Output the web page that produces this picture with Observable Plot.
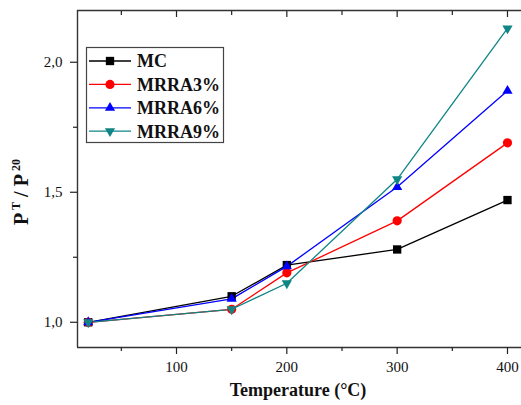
<!DOCTYPE html>
<html><head><meta charset="utf-8">
<script src="https://cdn.jsdelivr.net/npm/d3@7"></script>
<script src="https://cdn.jsdelivr.net/npm/@observablehq/plot@0.6"></script>
<style>body{margin:0;background:#fff} #chart{position:relative;width:521px;height:405px}</style>
</head><body><div id="chart"></div>
<script>
// ---- data ----
const temps = [20, 150, 200, 300, 400];
const seriesNames = ["MC", "MRRA3%", "MRRA6%", "MRRA9%"];
const mcValues = [1.00, 1.10, 1.22, 1.28, 1.47];
const mrra3Values = [1.00, 1.05, 1.19, 1.39, 1.69];
const mrra6Values = [1.00, 1.09, 1.215, 1.52, 1.89];
const mrra9Values = [1.00, 1.05, 1.15, 1.55, 2.13];
const seriesColors = ["#000000", "#ff0000", "#0000ff", "#0f8585"];
const xMajorTicks = [100, 200, 300, 400];
const xMinorTicks = [50, 150, 250, 350];
const yMajorTicks = [1.0, 1.5, 2.0];
const yMinorTicks = [1.25, 1.75];
const xDomain = [10.27, 412.7];
const yDomain = [0.903, 2.199];

// ---- symbols ----
const sqrt3 = Math.sqrt(3);
const triangleDown = {
  draw(context, size) {
    const y = -Math.sqrt(size / (sqrt3 * 3));
    context.moveTo(0, -y * 2);
    context.lineTo(-sqrt3 * y, y);
    context.lineTo(sqrt3 * y, y);
    context.closePath();
  }
};
const seriesSymbols = [d3.symbolSquare, d3.symbolCircle, d3.symbolTriangle, triangleDown];
const seriesR = [4.7, 4.6, 3.8, 3.8];
const allValues = [mcValues, mrra3Values, mrra6Values, mrra9Values];

const seriesData = allValues.map((vals, s) => temps.map((t, i) => ({t, v: vals[i], s: seriesNames[s]})));

const fmt = d => d.toFixed(1).replace(".", ",");
const axisStyle = {stroke: "#222", strokeWidth: 1.2};

const marks = [
  Plot.ruleX([xDomain[0]], {stroke: "#333", strokeWidth: 1.4}),
  Plot.ruleY([yDomain[0]], {stroke: "#333", strokeWidth: 1.4}),
  Plot.ruleY([yDomain[1]], {stroke: "#333", strokeWidth: 1.4}),
  Plot.axisX(xMajorTicks, {anchor: "bottom", tickSize: 7, tickPadding: 7, tickFormat: d => String(d), label: null, ...axisStyle, fill: "#111"}),
  Plot.axisX(xMinorTicks, {anchor: "bottom", tickSize: 4, tickFormat: () => "", label: null, ...axisStyle}),
  Plot.axisX(xMajorTicks, {anchor: "top", tickSize: -6, tickFormat: () => "", label: null, ...axisStyle}),
  Plot.axisX(xMinorTicks, {anchor: "top", tickSize: -4, tickFormat: () => "", label: null, ...axisStyle}),
  Plot.axisY(yMajorTicks, {anchor: "left", tickSize: 7, tickPadding: 8, tickFormat: fmt, label: null, ...axisStyle, fill: "#111"}),
  Plot.axisY(yMinorTicks, {anchor: "left", tickSize: 4, tickFormat: () => "", label: null, ...axisStyle}),
];
seriesData.forEach((data, s) => {
  marks.push(Plot.line(data, {x: "t", y: "v", stroke: seriesColors[s], strokeWidth: 1.3}));
});
seriesData.forEach((data, s) => {
  marks.push(Plot.dot(data, {x: "t", y: "v", symbol: seriesSymbols[s], r: seriesR[s], fill: seriesColors[s], stroke: "none"}));
});

const chart = Plot.plot({
  width: 521,
  height: 405,
  marginLeft: 77,
  marginRight: 0,
  marginTop: 10,
  marginBottom: 58,
  style: {fontFamily: "Liberation Serif", fontSize: "15px", background: "#fff", color: "#111"},
  x: {domain: xDomain, axis: null},
  y: {domain: yDomain, axis: null},
  marks
});
document.getElementById("chart").appendChild(chart);

// ---- titles and legend ----
const svg = d3.select(chart);
svg.append("text")
  .attr("x", 298).attr("y", 396)
  .attr("text-anchor", "middle")
  .attr("font-family", "Liberation Serif").attr("font-weight", "bold").attr("font-size", 18)
  .attr("fill", "#111")
  .text("Temperature (°C)");

const yl = svg.append("text")
  .attr("transform", "translate(28,192) rotate(-90)")
  .attr("text-anchor", "middle")
  .attr("font-family", "Liberation Serif").attr("font-weight", "bold").attr("font-size", 20)
  .attr("fill", "#111");
yl.append("tspan").text("P");
yl.append("tspan").attr("font-size", 12).attr("dy", -8).text(" T");
yl.append("tspan").attr("dy", 8).text(" / P");
yl.append("tspan").attr("font-size", 12).attr("dy", -8).text(" 20");

const lg = svg.append("g");
lg.append("rect").attr("x", 86.5).attr("y", 47.5).attr("width", 137).attr("height", 95)
  .attr("fill", "#fff").attr("stroke", "#444").attr("stroke-width", 1.2);
seriesNames.forEach((name, i) => {
  const yy = 61 + i * 23.4;
  lg.append("line").attr("x1", 89).attr("x2", 131).attr("y1", yy).attr("y2", yy)
    .attr("stroke", seriesColors[i]).attr("stroke-width", 1.3);
  lg.append("path")
    .attr("transform", `translate(110,${yy})`)
    .attr("d", d3.symbol(seriesSymbols[i], Math.PI * seriesR[i] * seriesR[i])())
    .attr("fill", seriesColors[i]);
  lg.append("text").attr("x", 137).attr("y", yy).attr("dy", "0.35em")
    .attr("text-anchor", "start")
    .attr("font-family", "Liberation Serif").attr("font-weight", "bold").attr("font-size", 18)
    .attr("fill", "#111").text(name);
});
</script>
</body></html>
